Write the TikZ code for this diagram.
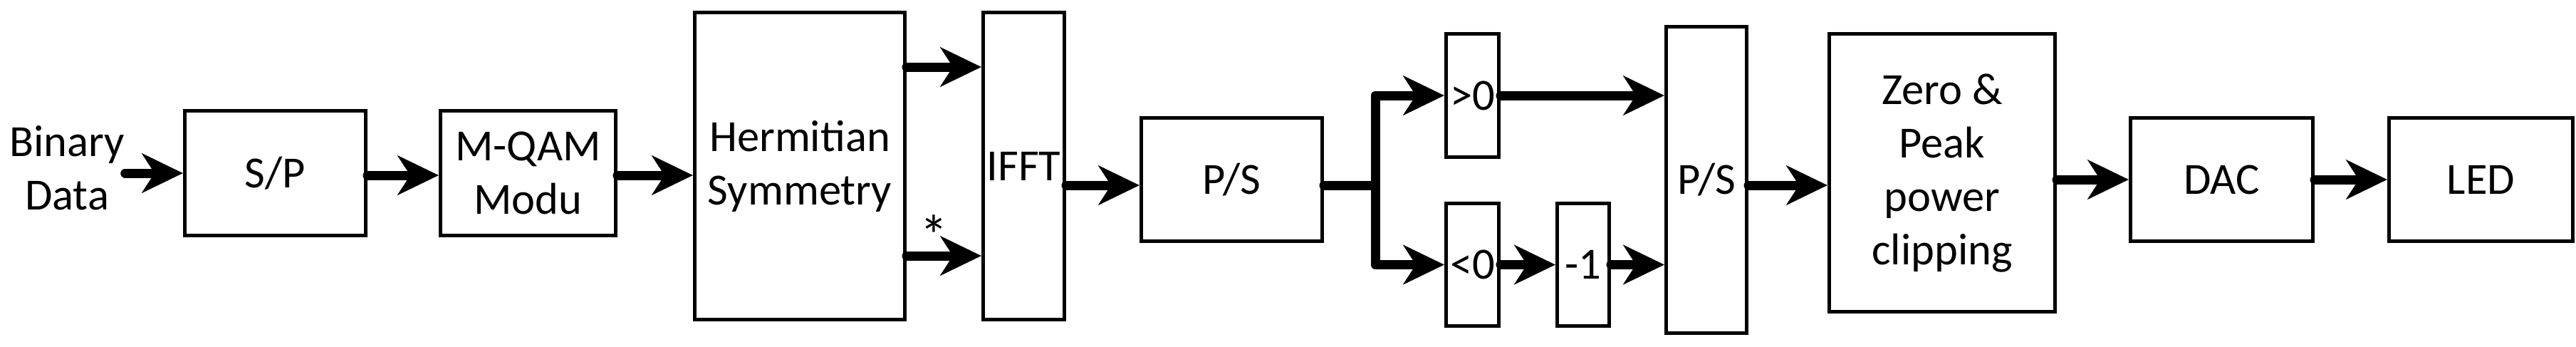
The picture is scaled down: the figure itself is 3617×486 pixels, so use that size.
\documentclass[tikz,border=0pt]{standalone}
\usepackage{fontspec}
\setmainfont{Carlito}
\usetikzlibrary{arrows.meta}
\begin{document}
\begin{tikzpicture}[x=0.2pt,y=-0.2pt,
  box/.style={draw,line width=1pt,inner sep=0pt,align=center,font=\fontsize{12.5}{15}\selectfont},
  arr/.style={line width=2.6pt,line cap=round,line join=round,-{Stealth[length=11.5pt,width=11pt,inset=3.5pt]}},
  lin/.style={line width=2.6pt,line cap=round,line join=round}]
\useasboundingbox (0,0) rectangle (3617,486);
\def\bx#1#2#3#4#5#6{\node[box,minimum width=#4*0.2pt-1pt,minimum height=#5*0.2pt-1pt] (#1) at (#2,#3) {#6};}
\bx{sp}{386.5}{243}{259}{180}{S/P}
\bx{qam}{741.5}{243}{251}{180}{M-QAM\\Modu}
\bx{herm}{1123}{233}{300}{436}{Hermitian\\Symmetry}
\bx{ifft}{1437.5}{233}{119}{436}{IFFT}
\bx{psa}{1729.5}{252}{259}{178}{P/S}
\bx{gt}{2067.5}{134}{79}{178}{>0}
\bx{lt}{2067.5}{371.5}{79}{177}{<0}
\bx{neg}{2223}{371.5}{78}{177}{-1}
\bx{psb}{2396}{252.5}{118}{435}{P/S}
\bx{zero}{2727}{242.5}{322}{395}{Zero \&\\Peak\\power\\clipping}
\bx{dac}{3119.5}{252}{261}{178}{DAC}
\bx{led}{3483.5}{252}{263}{178}{LED}
\node[font=\fontsize{12.5}{15}\selectfont,align=center,inner sep=0pt] (bd) at (94,236) {Binary\\Data};
\draw[arr] (bd.east |- sp.west) -- (sp.west);
\draw[arr] (sp.east |- 0,246) -- (qam.west |- 0,246);
\draw[arr] (qam.east |- 0,246) -- (herm.west |- 0,246);
\draw[arr] (herm.east |- 0,94) -- (ifft.west |- 0,94);
\draw[arr] (herm.east |- 0,359) -- (ifft.west |- 0,359);
\node[font=\fontsize{16}{18}\selectfont,inner sep=0pt] (star) at (1311,330) {*};
\draw[arr] (ifft.east |- 0,260) -- (psa.west |- 0,260);
\coordinate (br) at (1931,260);
\draw[lin] (psa.east |- br) -- (br);
\draw[arr] (br) |- (gt.west);
\draw[arr] (br) |- (lt.west);
\draw[arr] (gt.east) -- (gt.east -| psb.west);
\draw[arr] (lt.east) -- (neg.west);
\draw[arr] (neg.east) -- (neg.east -| psb.west);
\draw[arr] (psb.east |- 0,260) -- (zero.west |- 0,260);
\draw[arr] (zero.east |- 0,252) -- (dac.west |- 0,252);
\draw[arr] (dac.east |- 0,252) -- (led.west |- 0,252);
\end{tikzpicture}
\end{document}
